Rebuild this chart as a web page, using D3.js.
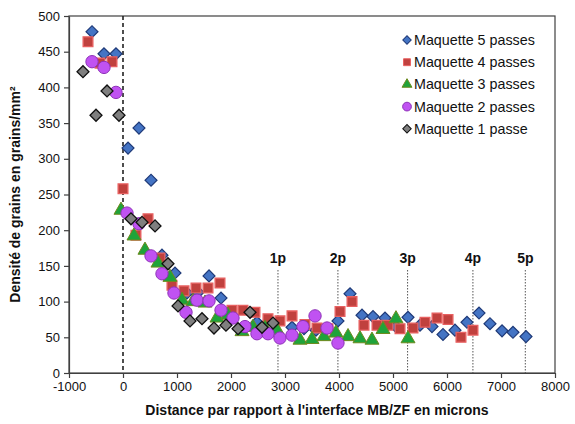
<!DOCTYPE html>
<html><head><meta charset="utf-8">
<script src="https://cdn.jsdelivr.net/npm/d3@7"></script>
<style>body{margin:0;background:#fff}svg{display:block}text{font-family:Arial,"Liberation Sans",sans-serif}</style>
</head><body><div id="chart"></div>
<script>
const seriesNames = ["Maquette 5 passes","Maquette 4 passes","Maquette 3 passes","Maquette 2 passes","Maquette 1 passe"];
const s5 = [[-574,478],[-352,447],[-130,447],[93,315],[296,343],[519,270],[722,165],[963,140],[1185,112],[1389,113],[1593,136],[1815,105],[2222,63],[2481,71],[3130,64],[3352,62],[3574,60],[3981,73],[4204,111],[4426,81],[4630,79],[4852,77],[5055,65],[5278,78],[5500,67],[5722,65],[5926,54],[6148,60],[6370,71],[6593,84],[6796,69],[7019,59],[7222,57],[7463,51]];
const s4 = [[-648,464],[-426,434],[-204,436],[0,258],[240,193],[463,216],[685,161],[907,123],[1130,115],[1352,119],[1574,119],[1796,126],[2018,88],[2222,88],[2444,85],[2685,76],[2907,73],[3130,80],[3370,68],[3593,63],[3796,62],[4019,86],[4241,100],[4463,67],[4704,67],[4907,67],[5130,62],[5370,63],[5593,71],[5815,77],[6019,75],[6259,50],[6481,60]];
const s3 = [[-37,228],[204,192],[407,172],[648,154],[870,134],[1093,102],[1296,100],[1519,98],[1741,77],[1944,81],[2204,58],[2407,64],[2630,63],[2852,60],[3278,46],[3500,47],[3722,51],[3944,56],[4167,51],[4389,48],[4611,46],[4815,61],[5055,76],[5278,48]];
const s2 = [[-574,436],[-352,428],[-130,393],[74,224],[296,209],[519,164],[722,139],[944,112],[1167,85],[1370,102],[1593,101],[1815,88],[2037,77],[2259,65],[2481,55],[2685,55],[2907,49],[3130,53],[3333,65],[3556,80],[3778,63],[3981,42]];
const s1 = [[-741,422],[-500,361],[-296,395],[-74,361],[148,216],[352,211],[593,206],[833,153],[1019,94],[1241,73],[1463,76],[1685,63],[1907,67],[2130,62],[2352,85],[2574,64],[2778,70]];
const passLabels = ["1p","2p","3p","4p","5p"];
const passPositions = [2870,3980,5270,6480,7450];
const xTicks = [-1000,0,1000,2000,3000,4000,5000,6000,7000,8000];
const yTicks = [0,50,100,150,200,250,300,350,400,450,500];

const W=575,H=424, m={l:69,r:20,t:16,b:51};
const svg=d3.select("#chart").append("svg").attr("width",W).attr("height",H);
const x=d3.scaleLinear().domain([-1000,8000]).range([m.l,W-m.r]);
const y=d3.scaleLinear().domain([0,500]).range([H-m.b,m.t]);

svg.append("rect").attr("x",m.l).attr("y",m.t).attr("width",W-m.r-m.l).attr("height",H-m.b-m.t)
  .attr("fill","none").attr("stroke","#404040").attr("stroke-width",1.2);

const fmt=d=>String(d);
const xa=svg.append("g").attr("transform",`translate(0,${H-m.b})`)
  .call(d3.axisBottom(x).tickValues(xTicks).tickFormat(fmt).tickSize(5).tickSizeOuter(0).tickPadding(4));
const ya=svg.append("g").attr("transform",`translate(${m.l},0)`)
  .call(d3.axisLeft(y).tickValues(yTicks).tickFormat(fmt).tickSize(5).tickSizeOuter(0).tickPadding(4));
[xa,ya].forEach(a=>{a.selectAll("path,line").attr("stroke","#404040").attr("stroke-width",1.2);
  a.selectAll("text").attr("font-size",13).attr("fill","#111").style("font-family","Arial, 'Liberation Sans', sans-serif");});

svg.append("line").attr("x1",x(0)).attr("x2",x(0)).attr("y1",y(500)).attr("y2",y(0))
  .attr("stroke","#222").attr("stroke-width",1.6).attr("stroke-dasharray","4,3");

passPositions.forEach((p,i)=>{
  svg.append("line").attr("x1",x(p)).attr("x2",x(p)).attr("y1",270).attr("y2",y(0))
    .attr("stroke","#555").attr("stroke-width",1).attr("stroke-dasharray","1.5,1.5");
  svg.append("text").attr("x",x(p)).attr("y",263).attr("text-anchor","middle")
    .attr("font-size",14).attr("font-weight","bold").attr("fill","#111").text(passLabels[i]);
});

const styles=[
  {data:s5,type:d3.symbolDiamond,size:95,fill:"#4474C4",stroke:"#1F3A78",sw:1.2},
  {data:s4,type:d3.symbolSquare,size:95,fill:"#C0413E",stroke:"#E86060",sw:1.3},
  {data:s3,type:d3.symbolTriangle,size:85,fill:"#1FA33A",stroke:"#6E8A1E",sw:1},
  {data:s2,type:d3.symbolCircle,size:120,fill:"#C052F2",stroke:"#8E32B8",sw:1},
  {data:s1,type:d3.symbolDiamond,size:95,fill:"#7F7F7F",stroke:"#111",sw:1.3}
];
function sym(st,sz){
  if(st.type===d3.symbolDiamond) return d3.symbol().type(d3.symbolSquare).size(sz*0.75)();
  return d3.symbol().type(st.type).size(sz)();
}
styles.forEach(st=>{
  const g=svg.append("g");
  g.selectAll("path").data(st.data).join("path")
    .attr("d",sym(st,st.size))
    .attr("transform",d=>`translate(${x(d[0])},${y(d[1])})`+(st.type===d3.symbolDiamond?" rotate(45)":""))
    .attr("fill",st.fill).attr("stroke",st.stroke).attr("stroke-width",st.sw);
});

const lg=svg.append("g");
seriesNames.forEach((n,i)=>{
  const st=styles[i], yy=40+i*22.2;
  lg.append("path").attr("d",sym(st,st.size*0.5))
    .attr("transform",`translate(407,${yy})`+(st.type===d3.symbolDiamond?" rotate(45)":""))
    .attr("fill",st.fill).attr("stroke",st.stroke).attr("stroke-width",1);
  lg.append("text").attr("x",414).attr("y",yy+5).attr("font-size",14.3).attr("fill","#111").text(n);
});

svg.append("text").attr("x",(m.l+W-m.r)/2+5).attr("y",415).attr("text-anchor","middle")
  .attr("font-size",14).attr("font-weight","bold").attr("fill","#111")
  .text("Distance par rapport à l'interface MB/ZF en microns");
svg.append("text").attr("transform",`translate(20,${(m.t+H-m.b)/2}) rotate(-90)`).attr("text-anchor","middle")
  .attr("font-size",14).attr("font-weight","bold").attr("fill","#111")
  .text("Densité de grains en grains/mm²");
</script></body></html>
